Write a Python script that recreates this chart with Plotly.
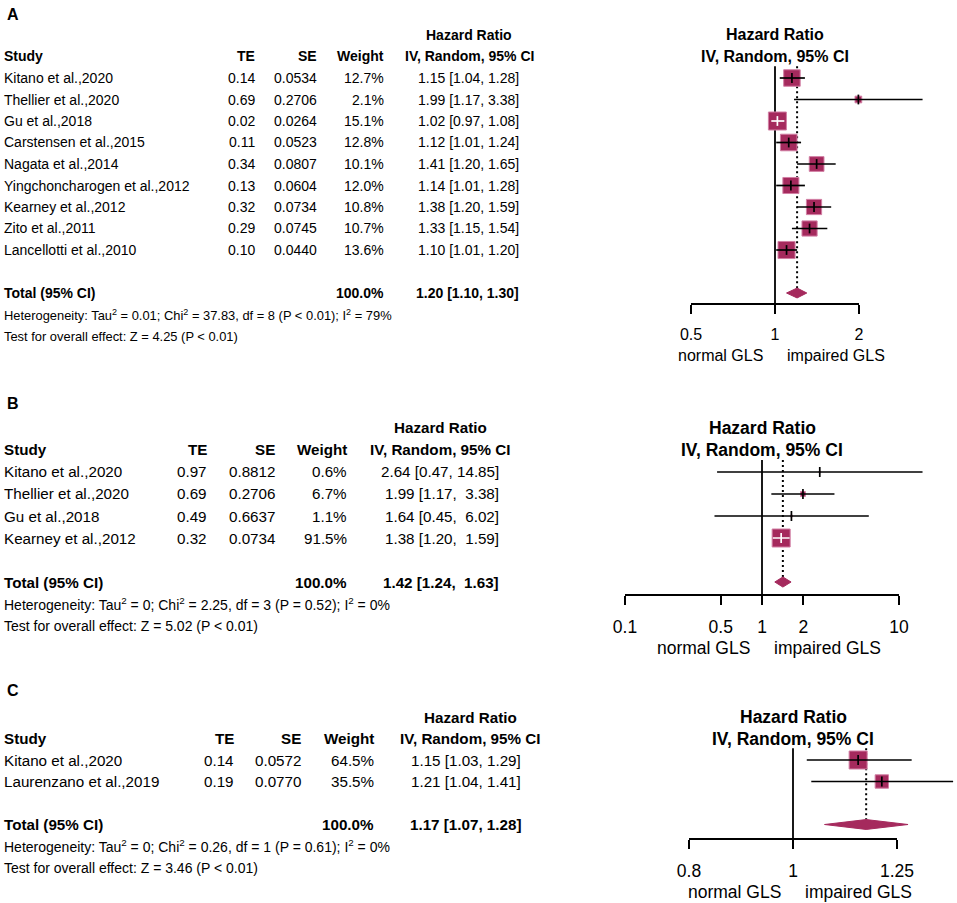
import math
import plotly.graph_objects as go

W, H = 957, 903
FONT = "Liberation Sans, Arial, Helvetica, sans-serif"
FILL = "#A52A5D"
EDGE = "#D27FA4"

# ---------------- Panel A data ----------------
studies_A = ["Kitano et al.,2020", "Thellier et al.,2020", "Gu et al.,2018",
             "Carstensen et al.,2015", "Nagata et al.,2014",
             "Yingchoncharogen et al.,2012", "Kearney et al.,2012",
             "Zito et al.,2011", "Lancellotti et al.,2010"]
te_A = [0.14, 0.69, 0.02, 0.11, 0.34, 0.13, 0.32, 0.29, 0.10]
se_A = [0.0534, 0.2706, 0.0264, 0.0523, 0.0807, 0.0604, 0.0734, 0.0745, 0.0440]
weight_A = [12.7, 2.1, 15.1, 12.8, 10.1, 12.0, 10.8, 10.7, 13.6]
hr_A = [1.15, 1.99, 1.02, 1.12, 1.41, 1.14, 1.38, 1.33, 1.10]
lower_A = [1.04, 1.17, 0.97, 1.01, 1.20, 1.01, 1.20, 1.15, 1.01]
upper_A = [1.28, 3.38, 1.08, 1.24, 1.65, 1.28, 1.59, 1.54, 1.20]
pooled_A = [1.20, 1.10, 1.30]
total_weight_A = 100.0
het_A = ["0.01", "37.83", "8", "P < 0.01", "79"]
test_A = ["4.25", "P < 0.01"]
ticks_A = [0.5, 1, 2]

# ---------------- Panel B data ----------------
studies_B = ["Kitano et al.,2020", "Thellier et al.,2020", "Gu et al.,2018",
             "Kearney et al.,2012"]
te_B = [0.97, 0.69, 0.49, 0.32]
se_B = [0.8812, 0.2706, 0.6637, 0.0734]
weight_B = [0.6, 6.7, 1.1, 91.5]
hr_B = [2.64, 1.99, 1.64, 1.38]
lower_B = [0.47, 1.17, 0.45, 1.20]
upper_B = [14.85, 3.38, 6.02, 1.59]
pooled_B = [1.42, 1.24, 1.63]
total_weight_B = 100.0
het_B = ["0", "2.25", "3", "P = 0.52", "0"]
test_B = ["5.02", "P < 0.01"]
ticks_B = [0.1, 0.5, 1, 2, 10]

# ---------------- Panel C data ----------------
studies_C = ["Kitano et al.,2020", "Laurenzano et al.,2019"]
te_C = [0.14, 0.19]
se_C = [0.0572, 0.0770]
weight_C = [64.5, 35.5]
hr_C = [1.15, 1.21]
lower_C = [1.03, 1.04]
upper_C = [1.29, 1.41]
pooled_C = [1.17, 1.07, 1.28]
total_weight_C = 100.0
het_C = ["0", "0.26", "1", "P = 0.61", "0"]
test_C = ["3.46", "P < 0.01"]
ticks_C = [0.8, 1, 1.25]

# ---------------- geometry (pixels) ----------------
panels = [
    dict(label="A", label_y=14, studies=studies_A, te=te_A, se=se_A, w=weight_A,
         hr=hr_A, lo=lower_A, hi=upper_A, pooled=pooled_A, wtot=total_weight_A,
         het=het_A, test=test_A,
         ticks=ticks_A, row1=78, sp=21.5, axis_px=303, top_px=18, one_px=775,
         ppd=279, fx0=600, c_te=256, c_se=318, c_w=385, c_ci=520, c_hdr=469,
         tfs=14, ffs=16, hfs=12.9, gls_y=355),
    dict(label="B", label_y=403, studies=studies_B, te=te_B, se=se_B, w=weight_B,
         hr=hr_B, lo=lower_B, hi=upper_B, pooled=pooled_B, wtot=total_weight_B,
         het=het_B, test=test_B,
         ticks=ticks_B, row1=472, sp=22, axis_px=594.3, top_px=410, one_px=762,
         ppd=137, fx0=560, c_te=208, c_se=276, c_w=348, c_ci=500, c_hdr=440,
         tfs=15.2, ffs=17.5, hfs=14, gls_y=648),
    dict(label="C", label_y=690, studies=studies_C, te=te_C, se=se_C, w=weight_C,
         hr=hr_C, lo=lower_C, hi=upper_C, pooled=pooled_C, wtot=total_weight_C,
         het=het_C, test=test_C,
         ticks=ticks_C, row1=760, sp=21.5, axis_px=838.3, top_px=700, one_px=793,
         ppd=1073, fx0=600, c_te=235, c_se=302, c_w=375, c_ci=522, c_hdr=470,
         tfs=15.2, ffs=17.5, hfs=14, gls_y=892),
]

SQMAX = 18
fig = go.Figure()
annotations = []
layout_axes = {}


def esc(s):
    return s.replace("<", "&lt;")


def add_text(text, xpx, ypx, xanchor, size, bold=False):
    annotations.append(dict(
        text=("<b>%s</b>" % text) if bold else text,
        x=xpx / W, xref="paper", y=1 - ypx / H, yref="paper",
        xanchor=xanchor, yanchor="middle", showarrow=False, borderpad=0,
        font=dict(family=FONT, size=size, color="black")))


for i, p in enumerate(panels):
    k = len(p["studies"])
    xd = "x" if i == 0 else "x%d" % (2 * i + 1)
    xt = "x%d" % (2 * i + 2)
    yid = "y" if i == 0 else "y%d" % (i + 1)
    xd_key = "xaxis" if i == 0 else "xaxis%d" % (2 * i + 1)
    xt_key = "xaxis%d" % (2 * i + 2)
    y_key = "yaxis" if i == 0 else "yaxis%d" % (i + 1)

    row1, sp = p["row1"], p["sp"]

    def rpx(r):
        return row1 + sp * (r - 1)

    r_bot = 1 + (p["axis_px"] - row1) / sp
    r_top = 1 + (p["top_px"] - row1) / sp
    r_tot = k + 2
    rows = list(range(1, k + 1))

    layout_axes[y_key] = dict(domain=[1 - p["axis_px"] / H, 1 - p["top_px"] / H],
                              range=[r_bot, r_top], visible=False, anchor=xd,
                              automargin=False, fixedrange=True)
    layout_axes[xd_key] = dict(domain=[p["fx0"] / W, 1], type="log",
                               range=[(p["fx0"] - p["one_px"]) / p["ppd"],
                                      (W - p["one_px"]) / p["ppd"]],
                               visible=False, anchor=yid, automargin=False,
                               fixedrange=True)
    tmin, tmax = min(p["ticks"]), max(p["ticks"])
    layout_axes[xt_key] = dict(
        domain=[(p["one_px"] + p["ppd"] * math.log10(tmin)) / W,
                (p["one_px"] + p["ppd"] * math.log10(tmax)) / W],
        type="log", range=[math.log10(tmin), math.log10(tmax)], anchor=yid,
        tickvals=p["ticks"], ticktext=["%g" % t for t in p["ticks"]],
        ticks="outside", ticklen=9, tickwidth=1.6, tickcolor="black",
        showline=True, linewidth=1.6, linecolor="black", showgrid=False,
        zeroline=False, ticklabelstandoff=7, automargin=False,
        tickfont=dict(family=FONT, size=p["ffs"], color="black"), fixedrange=True)

    # invisible trace to materialise the tick axis
    fig.add_trace(go.Scatter(x=p["ticks"], y=[r_bot] * len(p["ticks"]), xaxis=xt,
                             yaxis=yid, mode="markers", marker=dict(opacity=0),
                             hoverinfo="skip"))

    est, plo, phi = p["pooled"]
    # dotted pooled line
    fig.add_trace(go.Scatter(x=[est, est], y=[0.45, r_tot - 0.23], xaxis=xd,
                             yaxis=yid, mode="lines",
                             line=dict(color="black", width=2, dash="2px,3px"),
                             hoverinfo="skip"))
    # reference line at 1
    fig.add_trace(go.Scatter(x=[1, 1], y=[0.45, r_bot], xaxis=xd, yaxis=yid,
                             mode="lines", line=dict(color="black", width=1.8),
                             hoverinfo="skip"))
    # squares
    wmax = max(p["w"])
    sizes = [SQMAX * math.sqrt(w / wmax) for w in p["w"]]
    fig.add_trace(go.Scatter(x=p["hr"], y=rows, xaxis=xd, yaxis=yid, mode="markers",
                             marker=dict(symbol="square", size=sizes, color=FILL,
                                         opacity=1,
                                         line=dict(color=EDGE, width=1)),
                             hoverinfo="skip"))
    # CI lines (white when inside the square)
    for col in ("black", "white"):
        xs, ys, ex, ey = [], [], [], []
        for r, h, lo, hi, s in zip(rows, p["hr"], p["lo"], p["hi"], sizes):
            span = p["ppd"] * (math.log10(hi) - math.log10(lo))
            c = "white" if span < s else "black"
            if c != col:
                continue
            xs += [lo, hi, None]
            ys += [r, r, None]
            ex.append(h)
            ey.append(r)
        if xs:
            fig.add_trace(go.Scatter(x=xs, y=ys, xaxis=xd, yaxis=yid, mode="lines",
                                     line=dict(color=col, width=1.7),
                                     hoverinfo="skip"))
            fig.add_trace(go.Scatter(x=ex, y=ey, xaxis=xd, yaxis=yid, mode="markers",
                                     marker=dict(symbol="line-ns", size=7, opacity=1,
                                                 line=dict(color=col, width=1.7)),
                                     hoverinfo="skip"))
    # diamond
    fig.add_trace(go.Scatter(x=[plo, est, phi, est, plo],
                             y=[r_tot, r_tot - 0.23, r_tot, r_tot + 0.23, r_tot],
                             xaxis=xd, yaxis=yid, mode="lines", fill="toself",
                             fillcolor=FILL, line=dict(color=FILL, width=1),
                             hoverinfo="skip"))

    # ------------- table text -------------
    tfs, ffs, hfs = p["tfs"], p["ffs"], p["hfs"]
    add_text(p["label"], 6, p["label_y"], "left", 16, True)
    add_text("Hazard Ratio", p["c_hdr"], rpx(-1), "center", tfs, True)
    add_text("Study", 3, rpx(0), "left", tfs, True)
    add_text("TE", p["c_te"], rpx(0), "right", tfs, True)
    add_text("SE", p["c_se"], rpx(0), "right", tfs, True)
    add_text("Weight", p["c_w"], rpx(0), "right", tfs, True)
    add_text("IV, Random, 95% CI", p["c_hdr"], rpx(0), "center", tfs, True)

    width = max(len("%.2f" % v) for v in p["hi"] + [phi])

    def ci_text(h, lo, hi):
        up = ("%.2f" % hi).rjust(width).replace(" ", "\u00a0")
        return "%.2f [%.2f, %s]" % (h, lo, up)

    for r, name, te, se, w, h, lo, hi in zip(rows, p["studies"], p["te"], p["se"],
                                             p["w"], p["hr"], p["lo"], p["hi"]):
        add_text(name, 3, rpx(r), "left", tfs)
        add_text("%.2f" % te, p["c_te"], rpx(r), "right", tfs)
        add_text("%.4f" % se, p["c_se"], rpx(r), "right", tfs)
        add_text("%.1f%%" % w, p["c_w"], rpx(r), "right", tfs)
        add_text(ci_text(h, lo, hi), p["c_ci"], rpx(r), "right", tfs)

    add_text("Total (95% CI)", 3, rpx(r_tot), "left", tfs, True)
    add_text("%.1f%%" % p["wtot"], p["c_w"], rpx(r_tot), "right", tfs, True)
    add_text(ci_text(est, plo, phi), p["c_ci"], rpx(r_tot), "right", tfs, True)

    tau2, chi2, df, ph, i2 = p["het"]
    het_txt = ("Heterogeneity: Tau<sup>2</sup> = %s; Chi<sup>2</sup> = %s, df = %s "
               "(%s); I<sup>2</sup> = %s%%" % (tau2, chi2, df, esc(ph), i2))
    add_text(het_txt, 3, rpx(r_tot + 1), "left", hfs)
    z, pz = p["test"]
    add_text("Test for overall effect: Z = %s (%s)" % (z, esc(pz)), 3,
             rpx(r_tot + 2), "left", hfs)

    # ------------- forest header & direction labels -------------
    add_text("Hazard Ratio", p["one_px"], rpx(-1), "center", ffs, True)
    add_text("IV, Random, 95% CI", p["one_px"], rpx(0), "center", ffs, True)
    add_text("normal GLS", p["one_px"] - 11, p["gls_y"], "right", ffs)
    add_text("impaired GLS", p["one_px"] + 11, p["gls_y"], "left", ffs)

fig.update_layout(
    template="none",
    width=W, height=H, margin=dict(l=0, r=0, t=0, b=0, pad=0, autoexpand=False),
    paper_bgcolor="white", plot_bgcolor="rgba(0,0,0,0)",
    showlegend=False, annotations=annotations,
    font=dict(family=FONT, size=14, color="black"),
    **layout_axes)

fig.write_html("out.html", config={"displayModeBar": False, "responsive": False},
               post_script="document.body.style.margin='0';"
                           "document.body.style.overflow='hidden';")
